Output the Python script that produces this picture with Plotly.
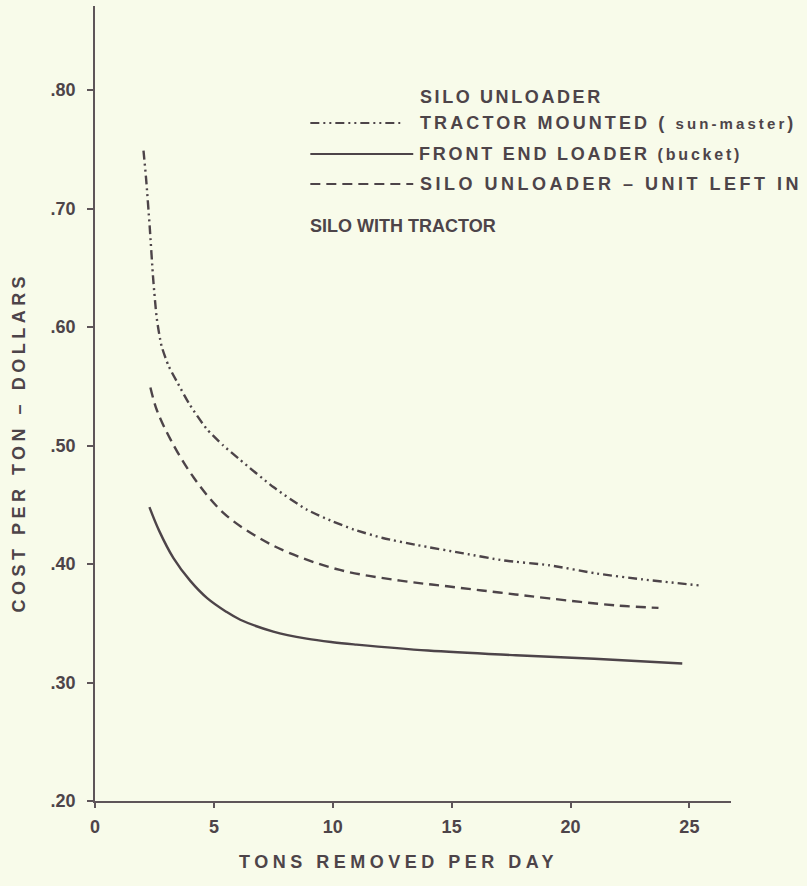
import plotly.graph_objects as go

# ---- data ----
sun_x = [2.04, 2.15, 2.30, 2.45, 2.60, 2.80, 3.10, 3.47, 4.0, 4.7, 5.4, 6.1, 7.5, 8.9, 10.0, 10.9, 12.1, 13.55, 15.5, 17.2, 19.1, 21.1, 23.05, 25.4]
sun_y = [0.749, 0.725, 0.685, 0.640, 0.607, 0.584, 0.567, 0.553, 0.534, 0.514, 0.500, 0.488, 0.465, 0.446, 0.436, 0.429, 0.422, 0.416, 0.409, 0.403, 0.399, 0.392, 0.387, 0.382]

fel_x = [2.29, 2.7, 3.3, 4.0, 4.73, 5.5, 6.11, 7.5, 8.9, 10.0, 11.0, 14.0, 17.7, 21.0, 24.7]
fel_y = [0.448, 0.428, 0.405, 0.386, 0.371, 0.360, 0.353, 0.343, 0.337, 0.334, 0.332, 0.327, 0.323, 0.320, 0.316]

unit_x = [2.33, 2.6, 3.18, 4.15, 5.41, 6.82, 8.22, 10.3, 12.84, 14.9, 17.0, 19.1, 21.95, 23.7]
unit_y = [0.549, 0.530, 0.505, 0.473, 0.443, 0.423, 0.409, 0.395, 0.386, 0.381, 0.376, 0.371, 0.365, 0.363]

x_ticks = [0, 5, 10, 15, 20, 25]
y_ticks = [0.20, 0.30, 0.40, 0.50, 0.60, 0.70, 0.80]
y_ticktext = [".20", ".30", ".40", ".50", ".60", ".70", ".80"]

legend_sun_1 = "SILO UNLOADER"
legend_sun_2 = "TRACTOR MOUNTED ( <span style='font-size:15px'>sun-master</span>)"
legend_fel = "FRONT END LOADER <span style='font-size:16px'>(bucket)</span>"
legend_unit_1 = "SILO UNLOADER – UNIT LEFT IN"
legend_unit_2 = "SILO WITH TRACTOR"
x_title = "TONS REMOVED PER DAY"
y_title = "COST PER TON – DOLLARS"

# ---- style ----
INK = "#4d4449"
AXIS = "#5e5559"
BG = "#f8fbea"
FONT = "Liberation Sans"
DASHDOT = "9px,4px,2px,4px,2px,4px"
DASHED = "10px,6px"
LW = 2.4

fig = go.Figure()
fig.add_trace(go.Scatter(x=sun_x, y=sun_y, mode="lines", line=dict(color=INK, width=LW, dash=DASHDOT, shape="spline", smoothing=0.6), showlegend=False))
fig.add_trace(go.Scatter(x=unit_x, y=unit_y, mode="lines", line=dict(color=INK, width=LW, dash=DASHED, shape="spline", smoothing=1.0), showlegend=False))
fig.add_trace(go.Scatter(x=fel_x, y=fel_y, mode="lines", line=dict(color=INK, width=LW, shape="spline", smoothing=1.0), showlegend=False))

L, R, T, B = 94.5, 76, 6, 85
W, H = 807, 886
pw = W - L - R
ph = H - T - B

def px(xpix):
    return (xpix - L) / pw

def py(ypix):
    return (H - B - ypix) / ph

# legend samples (paper coordinates)
for ypix, d, x1 in [(123, DASHDOT, 400), (154, "solid", 413), (184, DASHED, 413)]:
    fig.add_shape(type="line", xref="paper", yref="paper", x0=px(310), x1=px(x1), y0=py(ypix), y1=py(ypix),
                  line=dict(color=INK, width=2, dash=d))

tf = dict(family=FONT, size=18, color=INK, weight="bold")
ann = [
    (418, 97, legend_sun_1, 2.6),
    (418, 123, legend_sun_2, 3.1),
    (417, 154, legend_fel, 2.8),
    (418, 184, legend_unit_1, 3.5),
    (308, 226, legend_unit_2, 0.0),
]
for xp, yp, t, sp in ann:
    fig.add_annotation(x=px(xp), y=py(yp), xref="paper", yref="paper",
                       text="<span style='letter-spacing:%.1fpx'>%s</span>" % (sp, t), showarrow=False,
                       xanchor="left", yanchor="middle", font=tf)

fig.add_annotation(x=px(398), y=py(862), xref="paper", yref="paper",
                   text="<span style='letter-spacing:4.5px'>" + x_title + "</span>", showarrow=False,
                   xanchor="center", yanchor="middle", font=dict(family=FONT, size=18, color=INK, weight="bold"))
fig.add_annotation(x=px(18), y=py(442), xref="paper", yref="paper", textangle=-90,
                   text="<span style='letter-spacing:4.5px'>" + y_title + "</span>", showarrow=False,
                   xanchor="center", yanchor="middle", font=dict(family=FONT, size=18, color=INK, weight="bold"))

fig.update_layout(
    width=W, height=H,
    margin=dict(l=L, r=R, t=T, b=B, pad=0),
    paper_bgcolor=BG, plot_bgcolor=BG,
    showlegend=False,
    xaxis=dict(range=[0, 26.75], tickvals=x_ticks, ticktext=[str(v) for v in x_ticks],
               showline=True, linecolor=AXIS, linewidth=1.5, ticks="outside", ticklen=5, tickwidth=1.5,
               tickcolor=AXIS, showgrid=False, zeroline=False, ticklabelstandoff=4,
               tickfont=dict(family=FONT, size=18, color=INK, weight="bold")),
    yaxis=dict(range=[0.2, 0.871], tickvals=y_ticks, ticktext=y_ticktext,
               showline=True, linecolor=AXIS, linewidth=1.5, ticks="outside", ticklen=6, tickwidth=1.5,
               tickcolor=AXIS, showgrid=False, zeroline=False, ticklabelstandoff=8,
               tickfont=dict(family=FONT, size=18, color=INK, weight="bold")),
)

fig.write_html(
    "out.html",
    config={"displayModeBar": False},
    post_script="document.body.style.margin='0';document.body.style.overflow='hidden';"
                "document.body.style.backgroundColor='#f8fbea';",
)
